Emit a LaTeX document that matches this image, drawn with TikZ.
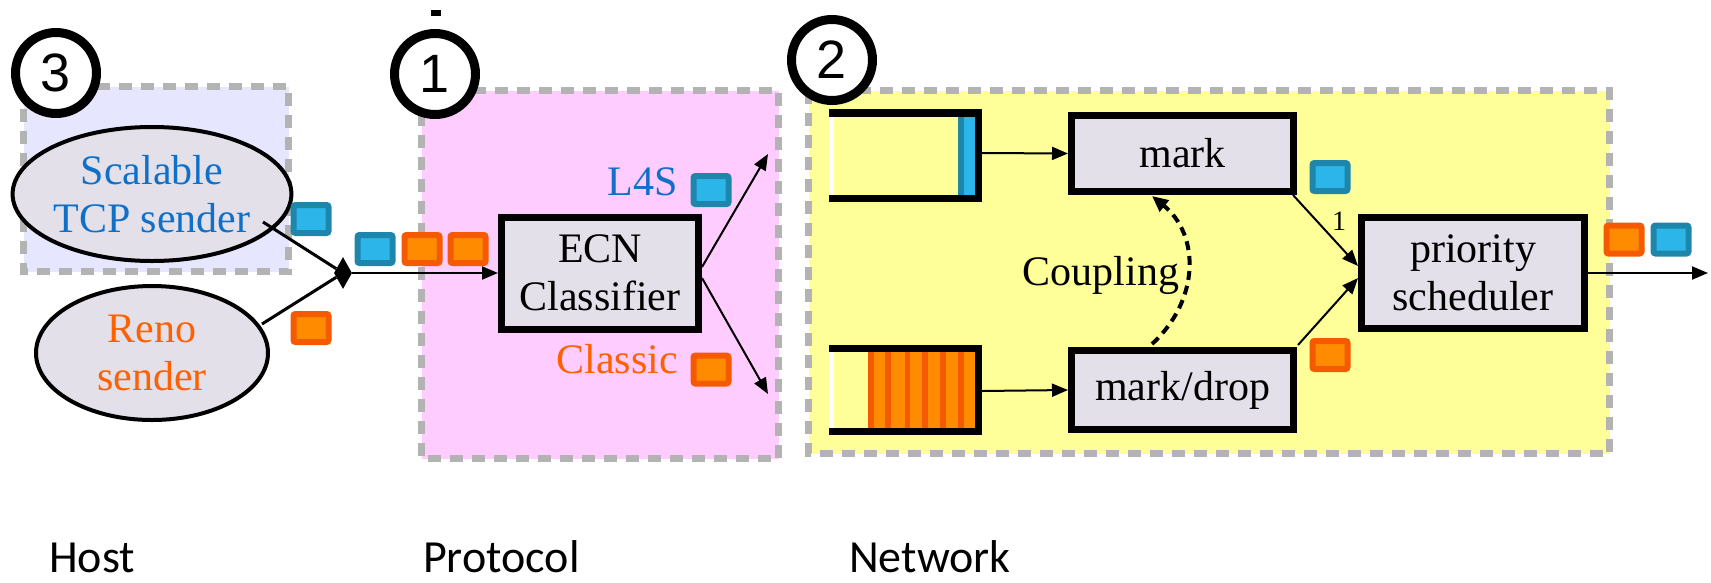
\documentclass[tikz,border=0pt]{standalone}
\usepackage{fontspec}
\setmainfont{Liberation Serif}
\newfontfamily\serf{Liberation Serif}
\newfontfamily\labfont{Carlito}
\newfontfamily\numfont{Liberation Sans}
\usetikzlibrary{arrows.meta,shapes.geometric}
\definecolor{grpgray}{HTML}{B3B3B3}
\definecolor{hostbg}{HTML}{E6E6FF}
\definecolor{protbg}{HTML}{FFCCFF}
\definecolor{netbg}{HTML}{FFFF99}
\definecolor{boxfill}{HTML}{E4E0EA}
\definecolor{pblue}{HTML}{2BB5E8}
\definecolor{pblueD}{HTML}{1E86AA}
\definecolor{por}{HTML}{FF8C00}
\definecolor{porD}{HTML}{F55A00}
\definecolor{tblue}{HTML}{1070C8}
\definecolor{tor}{HTML}{FF6000}
\begin{document}
\begin{tikzpicture}[x=1pt,y=-1pt,
  grp/.style={draw=grpgray, line width=7pt, dash pattern=on 13pt off 9pt},
  pkt/.style={rectangle, rounded corners=2pt, line width=6pt, minimum width=35pt, minimum height=28pt, inner sep=0pt},
  bpkt/.style={pkt, draw=pblueD, fill=pblue},
  opkt/.style={pkt, draw=porD, fill=por},
  proc/.style={rectangle, draw, line width=7pt, fill=boxfill, align=center, inner sep=0pt, font=\serf\fontsize{42}{48}\selectfont},
  sender/.style={ellipse, draw, line width=4pt, fill=boxfill, minimum width=232pt, minimum height=134pt, inner sep=0pt, align=center, font=\serf\fontsize{42}{48}\selectfont},
  num/.style={circle, draw, line width=9pt, fill=white, minimum size=81pt, inner sep=0pt, font=\numfont\fontsize{54}{54}\selectfont},
  arr/.style={line width=2pt, -{Triangle[length=16pt,width=13pt]}},
  conn/.style={line width=3pt},
  txt/.style={font=\serf\fontsize{42}{48}\selectfont, inner sep=0pt},
  lab/.style={font=\labfont\fontsize{46}{50}\selectfont, inner sep=0pt, anchor=base west}
]
\useasboundingbox (0,0) rectangle (1711,582);

% group boxes
\filldraw[grp, fill=hostbg] (23.5,86.5) rectangle (288.5,271.5);
\filldraw[grp, fill=protbg] (421.5,90.5) rectangle (778.5,458.5);
\filldraw[grp, fill=netbg] (808.5,90.5) rectangle (1609.5,453.5);

% numbered circles
\node[num] (n3) at (56,73) {3};
\node[num] (n1) at (435,74) {1};
\node[num] (n2) at (832,60) {2};
\fill (431,10) rectangle (441,16);

% senders
\node[sender, text=tblue] (snd) at (152,194) {Scalable\\TCP sender};
\node[sender, text=tor] (reno) at (152,353) {Reno\\sender};
\node[diamond, fill, inner sep=0pt, minimum width=18pt, minimum height=32pt] (jn) at (343,273) {};
\coordinate (s1) at (263,222);
\coordinate (r1) at (262,324);
\draw[conn] (s1) -- (jn);
\draw[conn] (r1) -- (jn);
\node[bpkt] (p1) at (311,219) {};
\node[opkt] (p2) at (311,328) {};

% classifier
\node[proc, minimum width=197pt, minimum height=112pt] (ecn) at (600,273) {ECN\\Classifier};
\draw[arr] (jn) -- (ecn);
\node[bpkt] (p3) at (375,249) {};
\node[opkt] (p4) at (422,249) {};
\node[opkt] (p5) at (468,249) {};
\coordinate (e1) at (702,267);
\coordinate (e2) at (702,278);
\coordinate (l4e) at (768,154);
\coordinate (cle) at (768,394);
\draw[arr] (e1) -- (l4e);
\draw[arr] (e2) -- (cle);
\node[txt, text=tblue, anchor=base east] (l4s) at (678,195) {L4S};
\node[txt, text=tor, anchor=base east] (cls) at (678,373) {Classic};
\node[bpkt] (p6) at (711,190) {};
\node[opkt] (p7) at (711,369.5) {};

% queues
\fill[white] (829,117) rectangle (834,195);
\fill[pblueD] (958,117) rectangle (963.5,195);
\fill[pblue] (963.5,117) rectangle (975,195);
\draw[line width=7.5pt] (829,113) -- (978.5,113) -- (978.5,198.5) -- (829,198.5);
\fill[white] (829,352) rectangle (834,428);
\fill[por] (868,352) rectangle (975,428);
\foreach \sx in {868,885,904.5,922,940,958}
  \fill[porD] (\sx,352) rectangle (\sx+5.5,428);
\draw[line width=7.5pt] (829,348.5) -- (978.5,348.5) -- (978.5,431.5) -- (829,431.5);
\coordinate (q1) at (982,153);
\coordinate (q2) at (982,391);

% network boxes
\node[proc, minimum width=222pt, minimum height=76pt] (mark) at (1182.5,153.5) {mark};
\node[proc, minimum width=222pt, minimum height=79pt] (mkd) at (1182.5,390) {mark/drop};
\node[proc, minimum width=223pt, minimum height=111pt] (sch) at (1473,273) {priority\\scheduler};
\draw[arr] (q1) -- (mark.west);
\draw[arr] (q2) -- (mkd.west);

% coupling
\coordinate (c0) at (1152,344);
\coordinate (c1) at (1152,196);
\draw[line width=4pt, dash pattern=on 9pt off 6pt, -{Triangle[length=16pt,width=14pt]}] (c0) .. controls (1200,300) and (1200,235) .. (c1);
\node[txt, anchor=base] (cpl) at (1101,285) {Coupling};

% to scheduler
\coordinate (m1) at (1293,195);
\coordinate (d1) at (1298,345);
\coordinate (sa) at (1358,266);
\coordinate (sb) at (1358,278);
\draw[arr] (m1) -- (sa);
\draw[arr] (d1) -- (sb);
\node[font=\serf\fontsize{28}{28}\selectfont, inner sep=0pt] (one) at (1339,221) {1};
\node[bpkt] (p8) at (1330,177) {};
\node[opkt] (p9) at (1330,355) {};

% output
\coordinate (oe) at (1708,273);
\draw[arr] (sch) -- (oe);
\node[opkt] (p10) at (1624,239.5) {};
\node[bpkt] (p11) at (1671,239.5) {};

% layer labels
\node[lab] (host) at (49,572) {Host};
\node[lab] (prot) at (423,572) {Protocol};
\node[lab] (netw) at (849,572) {Network};
\end{tikzpicture}
\end{document}
